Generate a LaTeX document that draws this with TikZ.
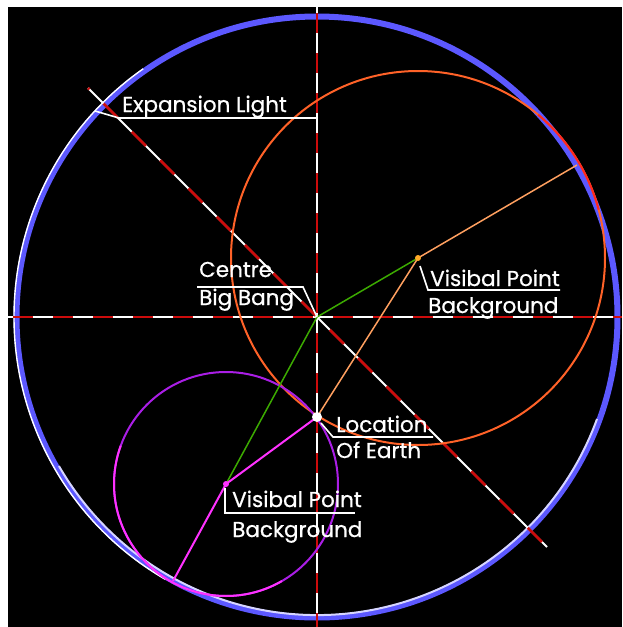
\documentclass[tikz,border=0pt]{standalone}
\usepackage{fontspec}
\setmainfont{Poppins}[BoldFont=Poppins,BoldFeatures={FakeBold=0.7}]
\definecolor{bluering}{RGB}{92,88,255}
\definecolor{axred}{RGB}{205,12,12}
\definecolor{orangering}{RGB}{255,98,40}
\definecolor{redring}{RGB}{255,40,30}
\definecolor{peach}{RGB}{255,160,96}
\definecolor{greenline}{RGB}{60,170,0}
\definecolor{magline}{RGB}{255,50,255}
\definecolor{purplering}{RGB}{170,30,230}
\definecolor{dotorange}{RGB}{255,170,40}
\begin{document}
\begin{tikzpicture}[x=1pt,y=-1pt,
  lbl/.style={text=white,font=\fontsize{21.5}{24}\selectfont\bfseries,inner sep=0pt,anchor=base west},
  leader/.style={draw=white,line width=1.6pt},
  axiswhite/.style={draw=white,line width=2pt},
  axisred/.style={draw=axred,line width=2.6pt,dash pattern=on 20pt off 20pt},
  ring/.style={line width=2pt}]
\useasboundingbox (0,0) rectangle (622,627);
\fill[white] (0,0) rectangle (622,627);
\fill[black] (8,7) rectangle (622,627);
% key points
\coordinate (C) at (317,317);
\coordinate (O1) at (418,258);
\coordinate (O2) at (226,484);
\coordinate (T1) at (577,165);
\coordinate (T2) at (173,581);
\coordinate (Dtl) at (88,88);
\coordinate (Dbr) at (547,547);
\coordinate (Vt) at (317,7);
\coordinate (Vb) at (317,627);
\coordinate (Hl) at (8,317);
\coordinate (Hr) at (622,317);
% outer ring
\draw[bluering,line width=6pt] (C) circle[radius=300.5];
\draw[white,line width=1.4pt] (C) ++(120:303) arc[start angle=120,end angle=235,radius=303];
\draw[white!75!bluering,line width=2pt] (C) ++(20:298) arc[start angle=20,end angle=150,radius=298];
% axes
\draw[axiswhite] (Hl) -- (Hr);
\draw[axisred,dash phase=35pt] (Hl) -- (Hr);
\draw[axiswhite] (Vt) -- (Vb);
\draw[axisred,dash phase=34pt] (Vt) -- (Vb);
\draw[axiswhite] (Dtl) -- (Dbr);
\draw[axisred,dash phase=18pt] (Dtl) -- (Dbr);
% circles
\draw[ring,orangering] (O1) circle[radius=187];
\draw[ring,redring] (O1) ++(-50:187) arc[start angle=-50,end angle=-15,radius=187];
\draw[ring,purplering] (O2) circle[radius=112];
\draw[ring,magline] (O2) ++(60:112) arc[start angle=60,end angle=200,radius=112];
% lines
\coordinate (E) at (317,417);
\draw[greenline,line width=1.5pt] (C) -- (O1);
\draw[greenline,line width=1.5pt] (C) -- (O2);
\draw[peach,line width=1.5pt] (O1) -- (T1);
\draw[peach,line width=1.5pt] (O1) -- (E);
\draw[magline,line width=2pt] (O2) -- (T2);
\draw[magline,line width=2pt] (O2) -- (E);
% labels
\node[lbl] (expl) at (122,112) {Expansion Light};
\draw[leader] (95,111) -- (119,118) -- (317,118);
\node[lbl] (centre) at (199,277) {Centre};
\node[lbl] (bigbang) at (199,305) {Big Bang};
\draw[leader] (197,287) -- (303,287) -- (C);
\node[lbl] (vp1) at (430,286) {Visibal Point};
\node[lbl] (bg1) at (428,313) {Background};
\draw[leader] (420,266) -- (428,290) -- (560,290);
\node[lbl] (loc) at (336,432) {Location};
\node[lbl] (oe) at (336,458) {Of Earth};
\draw[leader] (321,423) -- (333,437) -- (433,437);
\node[lbl] (vp2) at (232,507) {Visibal Point};
\node[lbl] (bg2) at (232,537) {Background};
\draw[leader] (225,488) -- (225,513) -- (355,513);
% dots
\fill[white] (E) circle[radius=5];
\fill[dotorange] (O1) circle[radius=3];
\fill[magline] (O2) circle[radius=3];
\end{tikzpicture}
\end{document}
